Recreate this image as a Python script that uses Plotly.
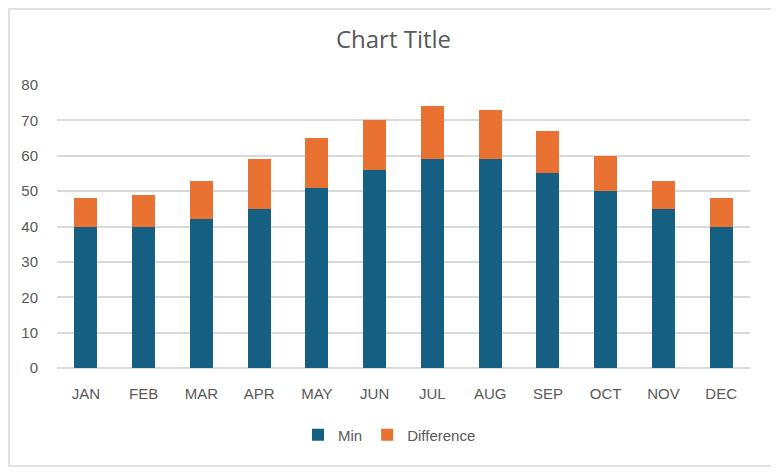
import plotly.graph_objects as go

months = ["JAN", "FEB", "MAR", "APR", "MAY", "JUN", "JUL", "AUG", "SEP", "OCT", "NOV", "DEC"]
min_vals = [40, 40, 42, 45, 51, 56, 59, 59, 55, 50, 45, 40]
diff_vals = [8, 9, 11, 14, 14, 14, 15, 14, 12, 10, 8, 8]

# page has an 8px body margin, so the figure is laid out 8px in
OFF = 8
W, H = 779 - OFF, 472 - OFF
L, T = 57 - OFF, 85 - OFF
R = W - (750 - OFF)
B = H - (368 - OFF)
pw, ph = W - L - R, H - T - B

fig = go.Figure()
fig.add_bar(x=months, y=min_vals, name="Min", marker_color="#156082", marker_line_width=0)
fig.add_bar(x=months, y=diff_vals, name="Difference", marker_color="#E97132", marker_line_width=0)

font = "Liberation Sans, Arial, sans-serif"
fig.update_layout(
    barmode="stack",
    bargap=0.6,
    width=W, height=H,
    margin=dict(l=L, r=R, t=T, b=B),
    paper_bgcolor="white",
    plot_bgcolor="white",
    font=dict(family=font, size=13, color="#595959"),
    title=dict(text="Chart Title", x=0.5, xanchor="center", y=1 - (40 - OFF) / H, yanchor="middle",
               font=dict(size=24, color="#595959", family="Open Sans, sans-serif")),
    legend=dict(orientation="h", x=0.5 - 14 / pw, xanchor="center", y=-(435 - 368) / ph, yanchor="middle",
                font=dict(size=15, color="#595959"), traceorder="normal", itemwidth=30),
    showlegend=True,
)
fig.update_yaxes(range=[0, 80], dtick=10, showgrid=True, gridcolor="#d9d9d9", gridwidth=1.5,
                 zeroline=True, zerolinecolor="#d9d9d9", zerolinewidth=1.5,
                 ticks="", ticklabelstandoff=18, tickfont=dict(size=15))
fig.update_xaxes(showline=False, ticks="", ticklabelstandoff=15, tickfont=dict(size=15))

# outer chart border
x0 = -(L - 1) / pw
x1 = 1 + ((773 - OFF) - (W - R)) / pw
y1 = 1 + (T - 1) / ph
y0 = -((466 - OFF) - (T + ph)) / ph
fig.add_shape(type="rect", xref="paper", yref="paper", x0=x0, x1=x1, y0=y0, y1=y1,
              line=dict(color="#d9d9d9", width=1.5), layer="below")

fig.write_html("out.html")
